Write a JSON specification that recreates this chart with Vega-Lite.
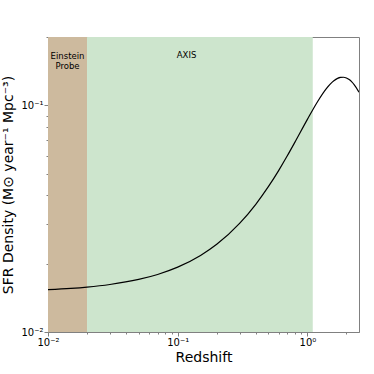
{
  "$schema": "https://vega.github.io/schema/vega-lite/v6.json",
  "width": 311,
  "height": 295,
  "autosize": {"type": "none"},
  "padding": {"left": 48, "top": 37, "right": 15, "bottom": 42},
  "background": "white",
  "config": {
    "font": "DejaVu Sans",
    "view": {"stroke": "#808080", "strokeWidth": 1},
    "axis": {
      "grid": false,
      "domainColor": "#808080",
      "tickColor": "#808080",
      "labelColor": "black",
      "labelFont": "DejaVu Sans",
      "labelFontSize": 10,
      "titleFont": "DejaVu Sans",
      "titleFontWeight": "normal",
      "titleColor": "black",
      "labelOverlap": false,
      "labelFlush": false
    }
  },
  "layer": [
    {
      "data": {"values": [
        {"band": "Einstein Probe", "x0": 0.01, "x1": 0.02},
        {"band": "AXIS", "x0": 0.02, "x1": 1.1}
      ]},
      "mark": {"type": "rect", "opacity": 1},
      "encoding": {
        "x": {
          "field": "x0", "type": "quantitative",
          "scale": {"type": "log", "domain": [0.01, 2.5], "nice": false},
          "axis": {
            "title": "Redshift",
            "titleFontSize": 14,
            "titlePadding": 3,
            "values": [0.01, 0.02, 0.03, 0.04, 0.05, 0.06, 0.07, 0.08, 0.09, 0.1, 0.2, 0.3, 0.4, 0.5, 0.6, 0.7, 0.8, 0.9, 1, 2],
            "labelExpr": "datum.value == 0.01 ? '10⁻²' : datum.value == 0.1 ? '10⁻¹' : datum.value == 1 ? '10⁰' : ''",
            "tickSize": {"condition": {"test": "datum.value == 0.01 || datum.value == 0.1 || datum.value == 1", "value": 4}, "value": 2},
            "labelPadding": 1
          }
        },
        "x2": {"field": "x1"},
        "color": {
          "field": "band", "type": "nominal",
          "scale": {"domain": ["Einstein Probe", "AXIS"], "range": ["#cdba9e", "#cde5cd"]},
          "legend": null
        }
      }
    },
    {
      "data": {"values": [
        {"z": 0.01, "sfr": 0.015366},
        {"z": 0.015, "sfr": 0.015572},
        {"z": 0.02, "sfr": 0.015778},
        {"z": 0.03, "sfr": 0.016197},
        {"z": 0.05, "sfr": 0.017055},
        {"z": 0.07, "sfr": 0.017939},
        {"z": 0.1, "sfr": 0.019318},
        {"z": 0.15, "sfr": 0.021754},
        {"z": 0.2, "sfr": 0.024366},
        {"z": 0.3, "sfr": 0.030123},
        {"z": 0.4, "sfr": 0.03659},
        {"z": 0.5, "sfr": 0.043735},
        {"z": 0.6, "sfr": 0.051519},
        {"z": 0.7, "sfr": 0.059849},
        {"z": 0.8, "sfr": 0.06859},
        {"z": 1.0, "sfr": 0.086652},
        {"z": 1.2, "sfr": 0.103941},
        {"z": 1.4, "sfr": 0.118434},
        {"z": 1.6, "sfr": 0.128318},
        {"z": 1.8, "sfr": 0.132739},
        {"z": 1.9, "sfr": 0.132913},
        {"z": 2.0, "sfr": 0.13186},
        {"z": 2.1, "sfr": 0.129755},
        {"z": 2.2, "sfr": 0.12676},
        {"z": 2.3, "sfr": 0.123062},
        {"z": 2.5, "sfr": 0.114233}
      ]},
      "mark": {"type": "line", "color": "black", "strokeWidth": 1.2, "interpolate": "monotone", "clip": true},
      "encoding": {
        "x": {"field": "z", "type": "quantitative"},
        "y": {
          "field": "sfr", "type": "quantitative",
          "scale": {"type": "log", "domain": [0.01, 0.2], "nice": false},
          "axis": {
            "title": "SFR Density (M⊙ year⁻¹ Mpc⁻³)",
            "titleFontSize": 14,
            "titlePadding": 5,
            "values": [0.01, 0.02, 0.03, 0.04, 0.05, 0.06, 0.07, 0.08, 0.09, 0.1, 0.2],
            "labelExpr": "datum.value == 0.01 ? '10⁻²' : datum.value == 0.1 ? '10⁻¹' : ''",
            "tickSize": {"condition": {"test": "datum.value == 0.01 || datum.value == 0.1", "value": 4}, "value": 2},
            "labelPadding": 1
          }
        }
      }
    },
    {
      "data": {"values": [
        {"label": "Einstein\nProbe", "x": 0.01414, "y": 0.165},
        {"label": "AXIS", "x": 0.117, "y": 0.167}
      ]},
      "mark": {"type": "text", "fontSize": 8.5, "lineBreak": "\n", "align": "center", "baseline": "middle", "color": "black", "lineHeight": 10},
      "encoding": {
        "x": {"field": "x", "type": "quantitative"},
        "y": {"field": "y", "type": "quantitative"},
        "text": {"field": "label"}
      }
    }
  ]
}
